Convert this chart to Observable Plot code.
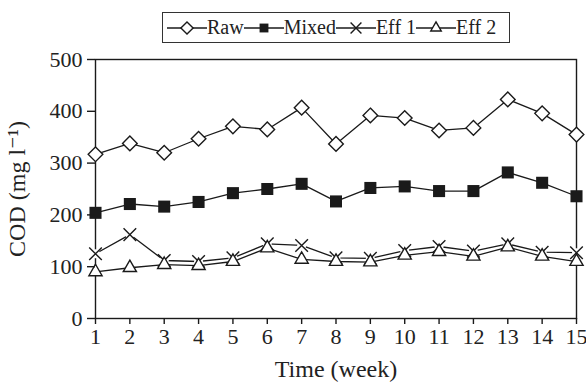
<!DOCTYPE html>
<html>
<head>
<meta charset="utf-8">
<script src="https://cdn.jsdelivr.net/npm/d3@7"></script>
<script src="https://cdn.jsdelivr.net/npm/@observablehq/plot@0.6"></script>
<style>
  body { margin: 0; background: #fff; }
  #wrap { position: relative; width: 586px; height: 382px; font-family: "Liberation Serif", "Times New Roman", "DejaVu Serif", serif; }
  #wrap svg text { font-family: "Liberation Serif", "Times New Roman", "DejaVu Serif", serif !important; fill: #222 !important; stroke: none !important; font-weight: normal !important; }
  #wrap svg g[aria-label="x-axis tick label"] text, #wrap svg g[aria-label="y-axis tick label"] text { font-size: 22px !important; }
  #wrap svg g[aria-label="x-axis label"] text, #wrap svg g[aria-label="y-axis label"] text { font-size: 24px !important; }
  #legend { position: absolute; left: 162px; top: 12px; width: 342px; height: 29px; border: 1px solid #333; background: #fff;
            display: flex; align-items: center; font-size: 20px; color: #222; padding-left: 4px; box-sizing: content-box; }
  #legend .item { display: flex; align-items: center; }
  #legend svg { display: block; }
</style>
</head>
<body>
<div id="wrap"><div id="legend"></div></div>
<script>
const weeks = [1, 2, 3, 4, 5, 6, 7, 8, 9, 10, 11, 12, 13, 14, 15];
const raw   = [317, 338, 320, 347, 371, 365, 407, 337, 392, 387, 363, 368, 423, 396, 355];
const mixed = [204, 221, 216, 225, 242, 250, 260, 226, 252, 255, 246, 246, 282, 262, 236];
const eff1  = [125, 162, 112, 110, 117, 144, 141, 117, 116, 131, 139, 130, 144, 128, 127];
const eff2  = [ 90,  98, 104, 102, 110, 136, 114, 110, 109, 122, 129, 120, 138, 120, 110];
const seriesNames = ["Raw", "Mixed", "Eff 1", "Eff 2"];
const yTicks = [0, 100, 200, 300, 400, 500];

const toRows = (vals, s) => weeks.map((w, i) => ({week: w, cod: vals[i], series: s}));
const rRaw = toRows(raw, "Raw"), rMixed = toRows(mixed, "Mixed"), rEff1 = toRows(eff1, "Eff 1"), rEff2 = toRows(eff2, "Eff 2");

const ink = "#1a1a1a";
const chart = Plot.plot({
  width: 586, height: 382,
  marginTop: 59, marginBottom: 64, marginLeft: 95, marginRight: 10,
  style: {fontSize: "22px", color: ink, background: "transparent"},
  x: {domain: [1, 15]},
  y: {domain: [0, 500]},
  marks: [
    Plot.frame({stroke: ink, strokeWidth: 1.4}),
    Plot.line(rEff2, {x: "week", y: "cod", stroke: ink, strokeWidth: 1.3}),
    Plot.line(rEff1, {x: "week", y: "cod", stroke: ink, strokeWidth: 1.3}),
    Plot.line(rMixed, {x: "week", y: "cod", stroke: ink, strokeWidth: 1.3}),
    Plot.line(rRaw, {x: "week", y: "cod", stroke: ink, strokeWidth: 1.3}),
    Plot.dot(rEff1, {x: "week", y: "cod", r: 4.5, fill: "white", stroke: "none"}),
    Plot.dot(rEff1, {x: "week", y: "cod", symbol: "times", r: 5.8, stroke: ink, strokeWidth: 1.4}),
    Plot.dot(rEff2, {x: "week", y: "cod", symbol: "triangle2", r: 6.3, fill: "white", stroke: ink, strokeWidth: 1.4}),
    Plot.dot(rMixed, {x: "week", y: "cod", symbol: "square", r: 6.8, fill: ink, stroke: "none"}),
    Plot.dot(rRaw, {x: "week", y: "cod", symbol: "diamond2", r: 6.6, fill: "white", stroke: ink, strokeWidth: 1.4}),
    Plot.axisX({ticks: weeks, tickFormat: d => d, tickSize: 6, tickPadding: 4, stroke: ink, strokeWidth: 1.4, fontSize: 22,
                label: "Time (week)", labelAnchor: "center", labelArrow: "none", labelOffset: 58}),
    Plot.axisY({ticks: yTicks, tickSize: 8, tickPadding: 5, stroke: ink, strokeWidth: 1.4, fontSize: 22,
                label: "COD (mg l⁻¹)", labelAnchor: "center", labelArrow: "none", labelOffset: 88})
  ]
});
chart.style.position = "absolute";
chart.style.left = "0px";
chart.style.top = "0px";
document.getElementById("wrap").prepend(chart);

// legend
const legendSymbols = {
  "Raw":   {type: d3.symbolDiamond2, size: Math.PI * 5.5 * 5.5, fill: "white", stroke: ink},
  "Mixed": {type: d3.symbolSquare, size: Math.PI * 5 * 5, fill: ink, stroke: "none"},
  "Eff 1": {type: d3.symbolTimes, size: Math.PI * 5 * 5, fill: "none", stroke: ink},
  "Eff 2": {type: d3.symbolTriangle2, size: Math.PI * 5 * 5, fill: "white", stroke: ink}
};
const legend = d3.select("#legend");
seriesNames.forEach(name => {
  const item = legend.append("div").attr("class", "item");
  const svg = item.append("svg").attr("width", 40).attr("height", 20);
  svg.append("line").attr("x1", 0).attr("x2", 40).attr("y1", 10).attr("y2", 10).attr("stroke", ink).attr("stroke-width", 1.4);
  const s = legendSymbols[name];
  svg.append("path").attr("transform", "translate(20,10)")
    .attr("d", d3.symbol(s.type, s.size)())
    .attr("fill", s.fill).attr("stroke", s.stroke).attr("stroke-width", 1.4);
  item.append("span").text(name);
});
</script>
</body>
</html>
